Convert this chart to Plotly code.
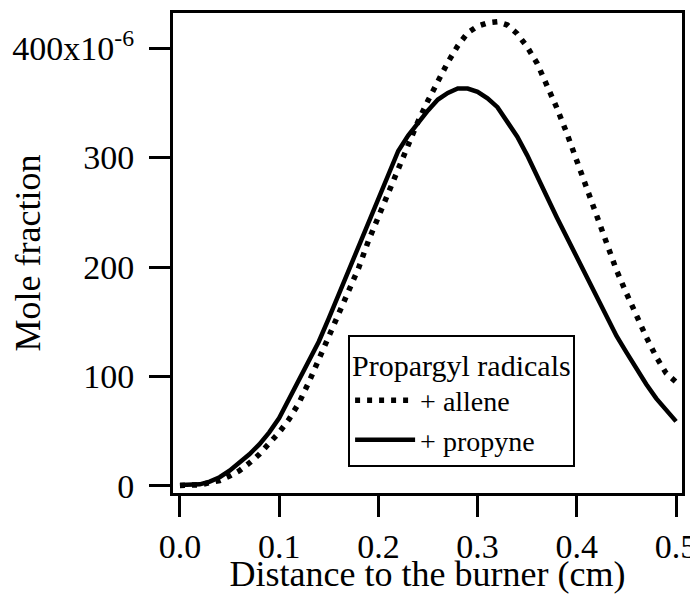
import plotly.graph_objects as go

# distance to the burner (cm)
dist = [0.00, 0.01, 0.02, 0.03, 0.04, 0.05, 0.06, 0.07, 0.08, 0.09,
        0.10, 0.11, 0.12, 0.13, 0.14, 0.15, 0.16, 0.17, 0.18, 0.19,
        0.20, 0.21, 0.22, 0.23, 0.24, 0.25, 0.26, 0.27, 0.28, 0.29,
        0.30, 0.31, 0.32, 0.33, 0.34, 0.35, 0.36, 0.37, 0.38, 0.39,
        0.40, 0.41, 0.42, 0.43, 0.44, 0.45, 0.46, 0.47, 0.48, 0.49, 0.50]

# propargyl mole fraction (x1e-6) in the allene flame
allene = [0.5, 0.5, 1, 3, 5, 9, 14, 21, 29, 39,
          49, 61, 76, 95, 116, 137, 157, 178, 199, 224,
          246, 265, 287, 311, 333, 352, 370, 387, 402, 414,
          420, 423, 424, 421, 413, 401, 386, 366, 345, 322,
          297, 272, 246, 220, 197, 176, 155, 136, 118, 103, 95]

# propargyl mole fraction (x1e-6) in the propyne flame
propyne = [1, 1, 1.5, 4, 8, 14, 21, 29, 38, 49,
           62, 79, 96, 114, 132, 153, 175, 197, 220, 241,
           263, 284, 306, 320, 332, 343, 353, 359, 363, 363,
           360, 354, 346, 333, 319, 302, 284, 264, 245, 227,
           208, 189, 171, 154, 137, 122, 107, 93, 80, 69, 59]

x_ticks = [0.0, 0.1, 0.2, 0.3, 0.4, 0.5]
x_labels = ["0.0", "0.1", "0.2", "0.3", "0.4", "0.5"]
y_ticks = [0, 100, 200, 300, 400]
y_labels = ["0", "100", "200", "300", "400x10<sup>-6</sup>"]

serif = "Liberation Serif"

fig = go.Figure()
fig.add_trace(go.Scatter(x=dist, y=allene, mode="lines", name="+ allene",
                         line=dict(color="black", width=5.5, dash="5px,7px")))
fig.add_trace(go.Scatter(x=dist, y=propyne, mode="lines", name="+ propyne",
                         line=dict(color="black", width=4.5)))

axis_style = dict(showline=True, linecolor="black", linewidth=3, mirror=True,
                  ticks="outside", ticklen=21, tickwidth=3, tickcolor="black",
                  showgrid=False, zeroline=False, automargin=False,
                  tickfont=dict(family=serif, size=34, color="black"))

fig.update_xaxes(range=[-0.007, 0.506], tickvals=x_ticks, ticktext=x_labels,
                 title=dict(text="Distance to the burner (cm)", standoff=0,
                            font=dict(family=serif, size=36, color="black")),
                 **axis_style)
fig.update_yaxes(range=[-6.4, 432], tickvals=y_ticks, ticktext=y_labels,
                 ticklabelstandoff=8,
                 title=dict(text="Mole fraction", standoff=10,
                            font=dict(family=serif, size=36, color="black")),
                 **axis_style)

# page body adds an 8px margin, so the figure is sized to fit inside it
fig.update_layout(
    width=690, height=586,
    margin=dict(l=165, r=16, t=5, b=101),
    paper_bgcolor="white", plot_bgcolor="white",
    font=dict(family=serif, color="black"),
    legend=dict(x=0.344, y=0.33, xanchor="left", yanchor="top",
                bordercolor="black", borderwidth=2, bgcolor="white",
                font=dict(family=serif, size=28, color="black"),
                title=dict(text="Propargyl radicals",
                           font=dict(family=serif, size=30, color="black")),
                itemwidth=60, tracegroupgap=0),
)

fig.write_html("out.html")
